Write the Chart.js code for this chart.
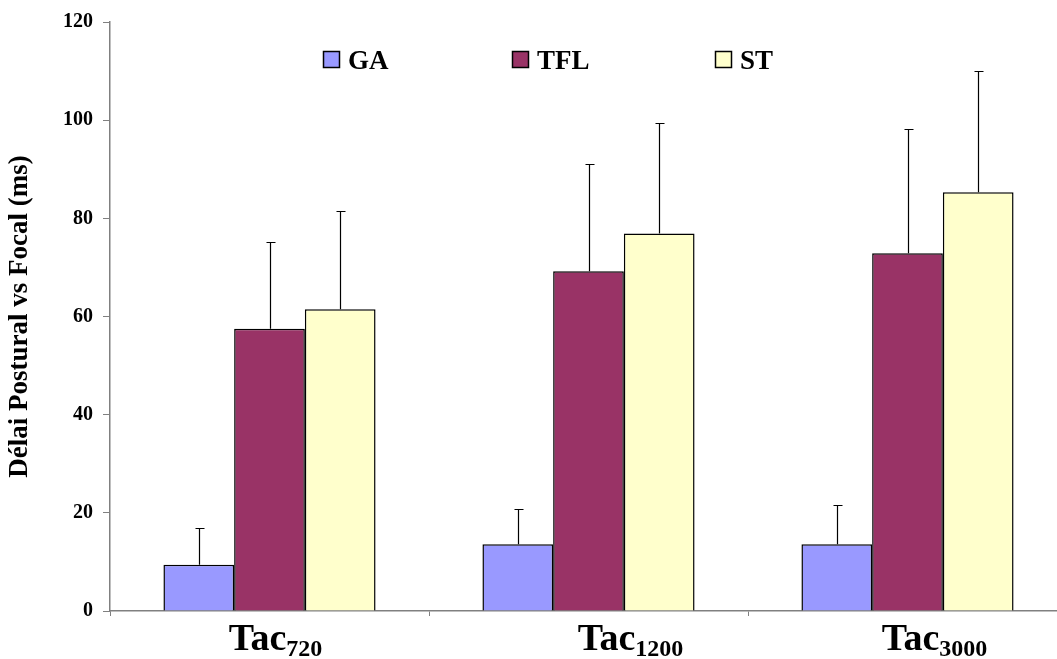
<!DOCTYPE html>
<html>
<head>
<meta charset="utf-8">
<script src="https://cdn.jsdelivr.net/npm/chart.js@4.4.1/dist/chart.umd.min.js"></script>
<style>
  html, body { margin: 0; padding: 0; background: #fff; overflow: hidden; }
  #wrap { width: 1070px; height: 659px; }
</style>
</head>
<body>
<div id="wrap"><canvas id="chart" width="1070" height="659"></canvas></div>
<script>
const categories = ['Tac|720', 'Tac|1200', 'Tac|3000'];
const seriesNames = ['GA', 'TFL', 'ST'];
const gaMean = [9.4, 13.6, 13.6];
const gaSd = [7.6, 7.1, 7.9];
const tflMean = [57.5, 69.2, 72.9];
const tflSd = [17.6, 21.8, 25.3];
const stMean = [61.5, 76.9, 85.3];
const stSd = [19.9, 22.6, 24.7];
const yTicks = [0, 20, 40, 60, 80, 100, 120];

const colors = ['#9999FF', '#993366', '#FFFFCC'];
const serif = '"Liberation Serif", "Times New Roman", serif';
const legendX = [323, 512, 715];
const labelShift = [6, 42, 27];

// error bars (mean + sd), drawn on top of each bar
const errorBars = {
  id: 'errorBars',
  afterDatasetsDraw(chart) {
    const ctx = chart.ctx;
    const y = chart.scales.y;
    ctx.save();
    ctx.strokeStyle = '#000';
    ctx.lineWidth = 1.2;
    chart.data.datasets.forEach((ds, i) => {
      chart.getDatasetMeta(i).data.forEach((bar, j) => {
        const top = Math.round(y.getPixelForValue(ds.data[j] + ds.sd[j])) + 0.5;
        const x = Math.round(bar.x) + 0.5;
        ctx.beginPath();
        ctx.moveTo(x, bar.y);
        ctx.lineTo(x, top);
        ctx.moveTo(x - 4, top);
        ctx.lineTo(x + 5, top);
        ctx.stroke();
      });
    });
    ctx.restore();
  }
};

// legend inside plot + category labels with subscripts
const extras = {
  id: 'extras',
  afterDraw(chart) {
    const ctx = chart.ctx;
    ctx.save();
    ctx.fillStyle = '#000';
    ctx.textBaseline = 'alphabetic';
    chart.data.datasets.forEach((ds, i) => {
      const x = legendX[i];
      ctx.fillStyle = ds.backgroundColor;
      ctx.fillRect(x, 51, 17, 17);
      ctx.strokeStyle = '#000';
      ctx.lineWidth = 1.5;
      ctx.strokeRect(x + 0.5, 51.5, 16, 16);
      ctx.fillStyle = '#000';
      ctx.font = 'bold 27px ' + serif;
      ctx.textAlign = 'left';
      ctx.fillText(ds.label, x + 25, 69);
    });

    const xs = chart.scales.x;
    categories.forEach((c, i) => {
      const [main, sub] = c.split('|');
      ctx.font = 'bold 38px ' + serif;
      const w1 = ctx.measureText(main).width;
      ctx.font = 'bold 24px ' + serif;
      const w2 = ctx.measureText(sub).width;
      const left = xs.getPixelForValue(i) + labelShift[i] - (w1 + w2) / 2;
      ctx.textAlign = 'left';
      ctx.font = 'bold 38px ' + serif;
      ctx.fillText(main, left, 650);
      ctx.font = 'bold 24px ' + serif;
      ctx.fillText(sub, left + w1, 656);
    });
    ctx.restore();
  }
};

const means = [gaMean, tflMean, stMean];
const sds = [gaSd, tflSd, stSd];

new Chart(document.getElementById('chart'), {
  type: 'bar',
  data: {
    labels: categories,
    datasets: seriesNames.map((name, i) => ({
      label: name,
      data: means[i],
      sd: sds[i],
      backgroundColor: colors[i],
      borderColor: '#000',
      borderWidth: 1.5,
      borderSkipped: 'bottom',
      categoryPercentage: 0.665,
      barPercentage: 1.0
    }))
  },
  options: {
    responsive: false,
    animation: false,
    layout: { padding: { top: 20, right: 3, left: 0, bottom: 0 } },
    plugins: {
      legend: { display: false },
      tooltip: { enabled: false }
    },
    scales: {
      x: {
        afterFit(scale) { scale.height = 48; },
        ticks: { display: false },
        grid: { drawOnChartArea: false, tickLength: 5, color: '#808080' },
        border: { color: '#808080', width: 1.5 }
      },
      y: {
        min: 0,
        max: 120,
        afterFit(scale) { scale.width = 110; },
        afterBuildTicks(scale) { scale.ticks = yTicks.map(v => ({ value: v })); },
        ticks: {
          padding: 10,
          color: '#000',
          font: { family: serif, size: 20, weight: 'bold' }
        },
        grid: { drawOnChartArea: false, tickLength: 7, color: '#808080' },
        border: { color: '#808080', width: 1.5 },
        title: {
          display: true,
          text: 'Délai Postural vs Focal (ms)',
          color: '#000',
          font: { family: serif, size: 27, weight: 'bold' },
          padding: { top: 4, bottom: 0 }
        }
      }
    }
  },
  plugins: [errorBars, extras]
});
</script>
</body>
</html>
